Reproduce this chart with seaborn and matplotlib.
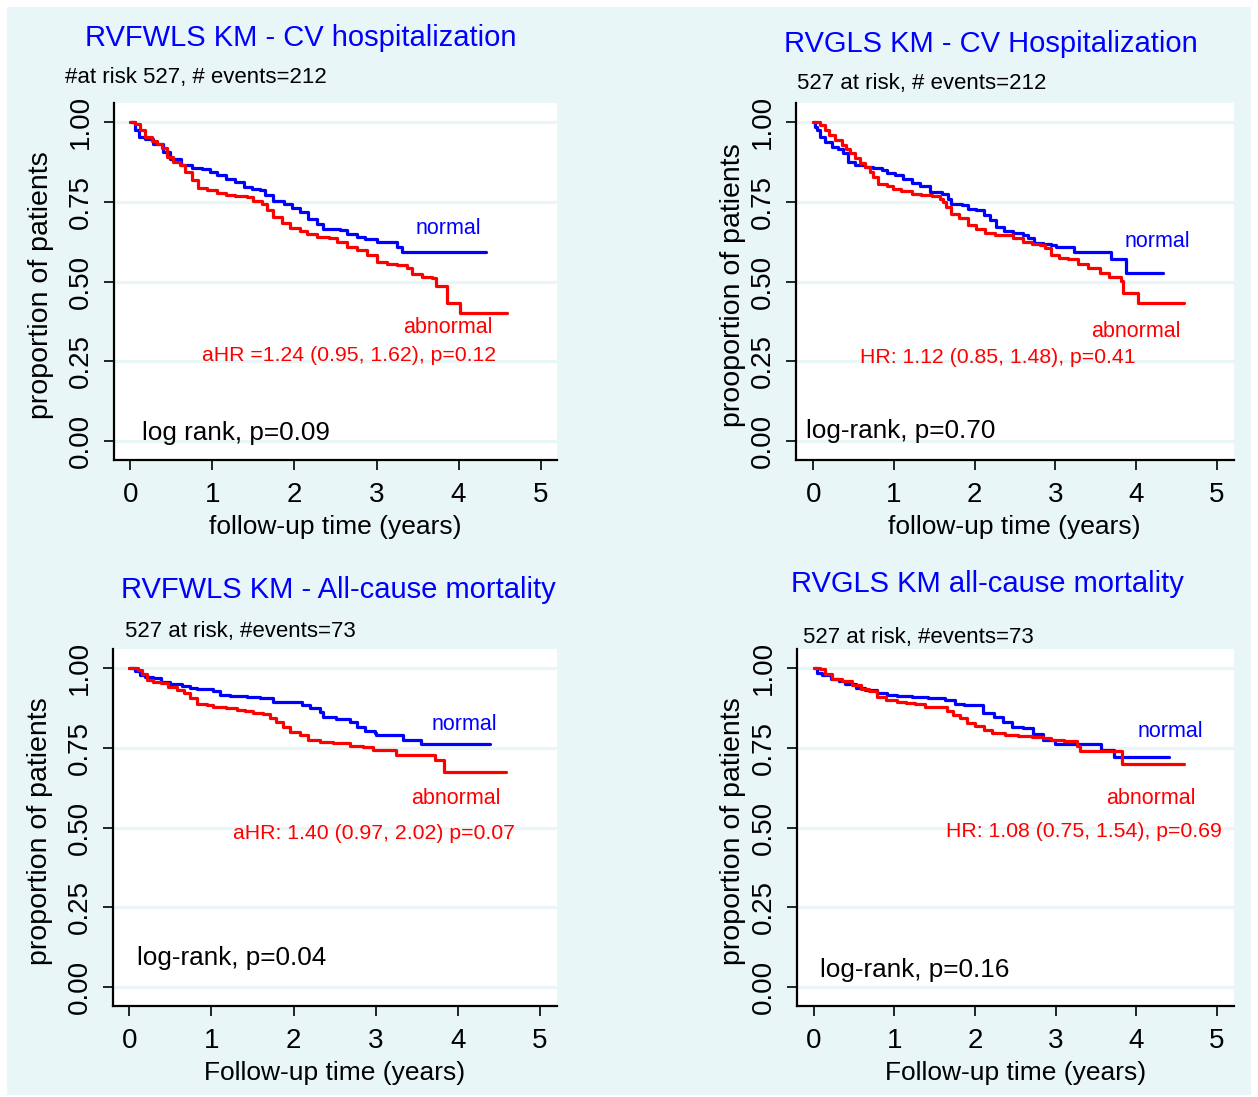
import pandas as pd
import seaborn as sns
import matplotlib.pyplot as plt
from matplotlib.patches import Rectangle

# Kaplan-Meier curves (time in years, proportion event-free)

# RVFWLS KM - CV hospitalization
p1_t_normal = [0, 0.05, 0.10, 0.18, 0.28, 0.40, 0.48, 0.62, 0.75, 0.87, 0.97, 1.05, 1.17, 1.28, 1.38, 1.48,
               1.58, 1.64, 1.74, 1.87, 1.97, 2.07, 2.17, 2.27, 2.35, 2.56, 2.64, 2.76, 2.86, 3.01,
               3.25, 3.31, 4.34]
p1_s_normal = [1.0, 0.975, 0.953, 0.947, 0.932, 0.906, 0.885, 0.864, 0.857, 0.854, 0.843, 0.833, 0.822, 0.812,
               0.796, 0.789, 0.786, 0.770, 0.752, 0.742, 0.731, 0.718, 0.697, 0.681, 0.666, 0.661, 0.648,
               0.640, 0.632, 0.624, 0.608, 0.594, 0.594]
p1_t_abn = [0, 0.05, 0.12, 0.18, 0.26, 0.32, 0.38, 0.44, 0.52, 0.60, 0.67, 0.75, 0.82, 0.93, 1.05, 1.17,
            1.28, 1.42, 1.50, 1.60, 1.66, 1.74, 1.85, 1.95, 2.07, 2.15, 2.27, 2.42, 2.52, 2.64, 2.76,
            2.88, 3.01, 3.13, 3.25, 3.37, 3.43, 3.56, 3.68, 3.72, 3.86, 4.02, 4.59]
p1_s_abn = [1.0, 0.993, 0.974, 0.953, 0.940, 0.932, 0.919, 0.890, 0.874, 0.864, 0.843, 0.817, 0.794, 0.786,
            0.777, 0.770, 0.767, 0.765, 0.752, 0.742, 0.723, 0.702, 0.683, 0.669, 0.660, 0.648, 0.640,
            0.637, 0.624, 0.608, 0.598, 0.582, 0.562, 0.556, 0.551, 0.543, 0.525, 0.514, 0.511, 0.486,
            0.434, 0.400, 0.400]

# RVGLS KM - CV Hospitalization
p2_t_normal = [0, 0.02, 0.04, 0.08, 0.14, 0.23, 0.31, 0.37, 0.43, 0.52, 0.64, 0.74, 0.85, 0.91, 1.01, 1.11,
               1.22, 1.32, 1.45, 1.59, 1.67, 1.71, 1.84, 1.92, 2.02, 2.11, 2.19, 2.27, 2.37, 2.48, 2.60,
               2.66, 2.73, 2.85, 2.95, 3.01, 3.23, 3.69, 3.88, 4.33]
p2_s_normal = [1.0, 0.985, 0.975, 0.954, 0.938, 0.923, 0.917, 0.902, 0.876, 0.865, 0.860, 0.855, 0.851, 0.841,
               0.834, 0.823, 0.810, 0.799, 0.781, 0.776, 0.760, 0.742, 0.740, 0.729, 0.724, 0.708, 0.692,
               0.672, 0.658, 0.653, 0.647, 0.635, 0.622, 0.619, 0.614, 0.607, 0.593, 0.570, 0.526, 0.526]
p2_t_abn = [0, 0.08, 0.14, 0.19, 0.27, 0.35, 0.41, 0.45, 0.52, 0.58, 0.64, 0.70, 0.74, 0.80, 0.91, 0.99,
            1.09, 1.22, 1.34, 1.47, 1.57, 1.61, 1.65, 1.71, 1.80, 1.92, 2.02, 2.13, 2.25, 2.37, 2.48,
            2.60, 2.71, 2.81, 2.87, 2.95, 3.04, 3.16, 3.28, 3.41, 3.55, 3.67, 3.81, 3.84, 4.02, 4.60]
p2_s_abn = [1.0, 0.991, 0.975, 0.959, 0.944, 0.928, 0.917, 0.902, 0.886, 0.872, 0.860, 0.844, 0.828,
            0.805, 0.799, 0.789, 0.783, 0.776, 0.771, 0.768, 0.760, 0.750, 0.734, 0.713, 0.698, 0.677,
            0.666, 0.651, 0.647, 0.645, 0.635, 0.624, 0.619, 0.614, 0.604, 0.583, 0.575, 0.570, 0.556,
            0.541, 0.528, 0.515, 0.502, 0.465, 0.433, 0.433]

# RVFWLS KM - All-cause mortality
p3_t_normal = [0, 0.07, 0.13, 0.19, 0.29, 0.39, 0.49, 0.64, 0.74, 0.82, 1.02, 1.10, 1.23, 1.43, 1.59,
               1.75, 2.10, 2.20, 2.32, 2.36, 2.52, 2.69, 2.77, 2.87, 2.99, 3.01, 3.33, 3.55, 4.39]
p3_s_normal = [1.0, 0.991, 0.980, 0.973, 0.968, 0.957, 0.949, 0.944, 0.938, 0.933, 0.929, 0.917, 0.912,
               0.908, 0.905, 0.894, 0.884, 0.876, 0.863, 0.847, 0.840, 0.832, 0.816, 0.803, 0.795, 0.790,
               0.776, 0.761, 0.761]
p3_t_abn = [0, 0.11, 0.15, 0.21, 0.29, 0.39, 0.47, 0.58, 0.66, 0.74, 0.82, 0.94, 1.02, 1.18, 1.31, 1.41,
            1.51, 1.63, 1.71, 1.79, 1.87, 1.96, 2.08, 2.18, 2.32, 2.48, 2.69, 2.85, 2.97, 3.25, 3.72,
            3.83, 4.59]
p3_s_abn = [1.0, 0.994, 0.983, 0.962, 0.957, 0.952, 0.941, 0.931, 0.921, 0.905, 0.889, 0.884, 0.877,
            0.874, 0.870, 0.865, 0.860, 0.855, 0.844, 0.832, 0.816, 0.800, 0.790, 0.774, 0.769, 0.764,
            0.757, 0.751, 0.743, 0.729, 0.712, 0.673, 0.673]

# RVGLS KM all-cause mortality
p4_t_normal = [0, 0.04, 0.10, 0.21, 0.31, 0.39, 0.52, 0.64, 0.78, 0.91, 1.03, 1.22, 1.42, 1.63, 1.75,
               1.86, 2.10, 2.23, 2.35, 2.46, 2.60, 2.72, 2.85, 2.99, 3.56, 3.73, 4.41]
p4_s_normal = [1.0, 0.986, 0.978, 0.966, 0.959, 0.949, 0.939, 0.931, 0.923, 0.917, 0.913, 0.908, 0.905,
               0.900, 0.889, 0.884, 0.860, 0.847, 0.832, 0.816, 0.813, 0.792, 0.774, 0.761, 0.743, 0.722,
               0.722]
p4_t_abn = [0, 0.08, 0.14, 0.23, 0.35, 0.47, 0.58, 0.68, 0.78, 0.89, 1.03, 1.14, 1.26, 1.38, 1.65, 1.73,
            1.82, 1.90, 2.00, 2.11, 2.21, 2.37, 2.54, 2.71, 2.85, 2.95, 3.10, 3.27, 3.30, 3.83, 4.60]
p4_s_abn = [1.0, 0.998, 0.983, 0.966, 0.959, 0.947, 0.936, 0.928, 0.910, 0.900, 0.894, 0.891, 0.886,
            0.879, 0.866, 0.853, 0.842, 0.827, 0.818, 0.806, 0.795, 0.790, 0.788, 0.784, 0.782, 0.776,
            0.771, 0.757, 0.741, 0.698, 0.698]

titles = ["RVFWLS KM - CV hospitalization", "RVGLS KM - CV Hospitalization",
          "RVFWLS KM - All-cause mortality", "RVGLS KM all-cause mortality"]
subtitles = ["#at risk 527, # events=212", "527 at risk, # events=212",
             "527 at risk, #events=73", "527 at risk, #events=73"]
ylabels = ["proportion of patients", "prooportion of patients",
           "proportion of patients", "proportion of patients"]
xlabels = ["follow-up time (years)", "follow-up time (years)",
           "Follow-up time (years)", "Follow-up time (years)"]
hr_texts = ["aHR =1.24 (0.95, 1.62), p=0.12", "HR: 1.12 (0.85, 1.48), p=0.41",
            "aHR: 1.40 (0.97, 2.02) p=0.07", "HR: 1.08 (0.75, 1.54), p=0.69"]
logrank_texts = ["log rank, p=0.09", "log-rank, p=0.70", "log-rank, p=0.04", "log-rank, p=0.16"]
xtick_vals = [0, 1, 2, 3, 4, 5]
ytick_vals = [0, 0.25, 0.5, 0.75, 1.0]
ytick_labels = ["0.00", "0.25", "0.50", "0.75", "1.00"]

BLUE = "#0000ff"
RED = "#ff0000"
BG = "#e9f6f8"
W, H = 1258, 1097

sns.set_theme(style="white")
plt.rcParams['font.family'] = ['Liberation Sans', 'DejaVu Sans']

fig = plt.figure(figsize=(W / 100, H / 100), dpi=100, facecolor="white")
fig.patches.append(Rectangle((7 / W, 2 / H), 1244 / W, 1088 / H, transform=fig.transFigure,
                             facecolor=BG, edgecolor="none", zorder=-10))


def px_rect(left, right, top, bottom):
    return [left / W, 1 - bottom / H, (right - left) / W, (bottom - top) / H]


panels = [
    dict(rect=px_rect(114, 557, 103, 460), xlim=(-0.2, 5.2),
         t_n=p1_t_normal, s_n=p1_s_normal, t_a=p1_t_abn, s_a=p1_s_abn,
         title_xy=(301, 38), sub_xy=(65, 78), ylab_x=-0.135,
         normal_xy=(3.88, 0.665), abn_xy=(4.42, 0.355), hr_xy=(4.46, 0.267), lr_xy=(0.14, 0.025)),
    dict(rect=px_rect(796, 1233.5, 103, 460), xlim=(-0.215, 5.21),
         t_n=p2_t_normal, s_n=p2_s_normal, t_a=p2_t_abn, s_a=p2_s_abn,
         title_xy=(991, 44), sub_xy=(797, 83), ylab_x=-0.114,
         normal_xy=(4.26, 0.626), abn_xy=(4.56, 0.342), hr_xy=(4.0, 0.263), lr_xy=(-0.09, 0.03)),
    dict(rect=px_rect(113, 557, 649, 1006), xlim=(-0.2, 5.21),
         t_n=p3_t_normal, s_n=p3_s_normal, t_a=p3_t_abn, s_a=p3_s_abn,
         title_xy=(338, 590), sub_xy=(125, 632), ylab_x=-0.135,
         normal_xy=(4.08, 0.824), abn_xy=(4.52, 0.592), hr_xy=(4.70, 0.48), lr_xy=(0.09, 0.09)),
    dict(rect=px_rect(797, 1233.5, 649, 1006), xlim=(-0.21, 5.21),
         t_n=p4_t_normal, s_n=p4_s_normal, t_a=p4_t_abn, s_a=p4_s_abn,
         title_xy=(987, 584), sub_xy=(803, 637), ylab_x=-0.117,
         normal_xy=(4.42, 0.80), abn_xy=(4.74, 0.592), hr_xy=(5.06, 0.489), lr_xy=(0.08, 0.053)),
]

for i, p in enumerate(panels):
    ax = fig.add_axes(p["rect"])
    ax.set_facecolor("white")

    df = pd.DataFrame({
        "time": p["t_n"] + p["t_a"],
        "surv": p["s_n"] + p["s_a"],
        "group": ["normal"] * len(p["t_n"]) + ["abnormal"] * len(p["t_a"]),
    })
    sns.lineplot(data=df, x="time", y="surv", hue="group", hue_order=["normal", "abnormal"],
                 palette={"normal": BLUE, "abnormal": RED}, estimator=None, sort=False,
                 drawstyle="steps-post", linewidth=2.3, legend=False, ax=ax)

    ax.set_xlim(*p["xlim"])
    ax.set_ylim(-0.06, 1.06)
    ax.set_xticks(xtick_vals)
    ax.set_xticklabels([str(v) for v in xtick_vals], fontsize=20)
    ax.set_yticks(ytick_vals)
    ax.set_yticklabels(ytick_labels, rotation=90, va="center", fontsize=20)
    ax.grid(axis="y", color=BG, linewidth=2.2)
    ax.grid(axis="x", visible=False)
    ax.set_axisbelow(True)

    for side in ["top", "right"]:
        ax.spines[side].set_visible(False)
    for side in ["left", "bottom"]:
        ax.spines[side].set_color("black")
        ax.spines[side].set_linewidth(1.6)
    ax.tick_params(axis="both", direction="out", length=7.5, width=1.2, color="black",
                   labelcolor="black", left=True, bottom=True)
    ax.tick_params(axis="x", pad=8)
    ax.tick_params(axis="y", pad=7)

    ax.set_xlabel(xlabels[i], fontsize=19, color="black", labelpad=5.5)
    ax.set_ylabel(ylabels[i], fontsize=20.5, color="black")
    ax.yaxis.set_label_coords(p["ylab_x"], 0.49)

    ax.text(*p["normal_xy"], "normal", color=BLUE, fontsize=15.5, ha="center", va="center")
    ax.text(*p["abn_xy"], "abnormal", color=RED, fontsize=15.5, ha="right", va="center")
    ax.text(*p["hr_xy"], hr_texts[i], color=RED, fontsize=15.3, ha="right", va="center")
    ax.text(*p["lr_xy"], logrank_texts[i], color="black", fontsize=18.8, ha="left", va="center")

    tx, ty = p["title_xy"]
    fig.text(tx / W, 1 - ty / H, titles[i], color=BLUE, fontsize=21, ha="center", va="center")
    sx, sy = p["sub_xy"]
    fig.text(sx / W, 1 - sy / H, subtitles[i], color="black", fontsize=16,
             ha="left", va="center")

fig.savefig("out.png", dpi=100, facecolor="white")
